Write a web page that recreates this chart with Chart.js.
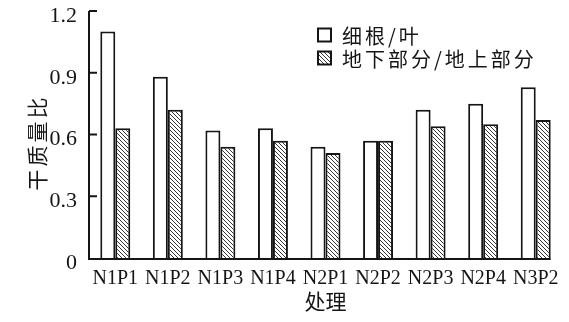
<!DOCTYPE html>
<html>
<head>
<meta charset="utf-8">
<script src="https://cdn.jsdelivr.net/npm/chart.js@4/dist/chart.umd.min.js"></script>
<style>
  html, body { margin: 0; padding: 0; background: #fff; }
  #wrap { width: 569px; height: 322px; }
</style>
</head>
<body>
<div id="wrap"><canvas id="c" width="569" height="322"></canvas></div>
<script>
// Treatments and dry-mass ratios
const categories = ['N1P1', 'N1P2', 'N1P3', 'N1P4', 'N2P1', 'N2P2', 'N2P3', 'N2P4', 'N3P2'];
const fineRootLeaf = [1.10, 0.88, 0.62, 0.63, 0.54, 0.57, 0.72, 0.75, 0.83];
const belowAbove = [0.63, 0.72, 0.54, 0.57, 0.51, 0.57, 0.64, 0.65, 0.67];
const seriesNames = ['细根/叶', '地下部分/地上部分'];
const yTicks = [0, 0.3, 0.6, 0.9, 1.2];
const yTitle = '干质量比';
const xTitle = '处理';

const INK = '#151515';
const SERIF = '"Liberation Serif", "Times New Roman", serif';
const CJK = '"Noto Sans CJK SC", sans-serif';

// Diagonal hatch fill ("\" direction)
function makeHatch() {
  const s = 4;
  const cv = document.createElement('canvas');
  cv.width = s; cv.height = s;
  const g = cv.getContext('2d');
  g.fillStyle = '#fff';
  g.fillRect(0, 0, s, s);
  g.strokeStyle = '#333';
  g.lineWidth = 1;
  g.beginPath();
  g.moveTo(-1, -1); g.lineTo(s + 1, s + 1);
  g.moveTo(-1, s - 1); g.lineTo(1, s + 1);
  g.moveTo(s - 1, -1); g.lineTo(s + 1, 1);
  g.stroke();
  return g.createPattern(cv, 'repeat');
}
const hatch = makeHatch();

// Axis lines, inward ticks, y title and legend
const decor = {
  id: 'decor',
  afterDatasetsDraw(chart) {
    const ctx = chart.ctx;
    const y = chart.scales.y;
    const area = chart.chartArea;
    const last = chart.getDatasetMeta(1).data[categories.length - 1];
    const xEnd = last.x + last.width / 2;
    ctx.save();
    ctx.strokeStyle = INK;
    ctx.lineWidth = 2;
    ctx.beginPath();
    ctx.moveTo(area.left, y.getPixelForValue(yTicks[yTicks.length - 1]));
    ctx.lineTo(area.left, y.getPixelForValue(0) + 1);
    ctx.lineTo(xEnd, y.getPixelForValue(0) + 1);
    ctx.stroke();
    yTicks.forEach(v => {
      if (v === 0) return;
      const py = y.getPixelForValue(v);
      ctx.beginPath();
      ctx.moveTo(area.left, py);
      ctx.lineTo(area.left + 8, py);
      ctx.stroke();
    });

    // vertical axis title
    ctx.save();
    ctx.translate(37, 144);
    ctx.rotate(-Math.PI / 2);
    ctx.font = '21px ' + CJK;
    ctx.fillStyle = INK;
    ctx.textAlign = 'center';
    ctx.textBaseline = 'middle';
    try { ctx.letterSpacing = '3px'; } catch (e) {}
    ctx.fillText(yTitle, 1.5, 0);
    ctx.restore();

    // legend
    const lx = 318, rows = [35, 58], box = 13;
    ctx.font = '20px ' + CJK;
    ctx.textBaseline = 'middle';
    ctx.textAlign = 'left';
    try { ctx.letterSpacing = '3px'; } catch (e) {}
    chart.data.datasets.forEach((ds, i) => {
      const cy = rows[i];
      ctx.fillStyle = ds.backgroundColor;
      ctx.fillRect(lx, cy - box / 2, box, box);
      ctx.lineWidth = 2;
      ctx.strokeStyle = INK;
      ctx.strokeRect(lx, cy - box / 2, box, box);
      ctx.fillStyle = INK;
      ctx.fillText(ds.label, lx + 24, cy + 1);
    });
    ctx.restore();
  }
};

new Chart(document.getElementById('c'), {
  type: 'bar',
  data: {
    labels: categories,
    datasets: [
      { label: seriesNames[0], data: fineRootLeaf, backgroundColor: '#fff', borderColor: INK, borderWidth: 2 },
      { label: seriesNames[1], data: belowAbove, backgroundColor: hatch, borderColor: INK, borderWidth: 2 }
    ]
  },
  options: {
    responsive: false,
    animation: false,
    devicePixelRatio: 1,
    layout: { padding: { top: 11, right: 7, left: 0, bottom: 0 } },
    datasets: { bar: { categoryPercentage: 0.57, barPercentage: 1.0 } },
    plugins: { legend: { display: false }, tooltip: { enabled: false } },
    scales: {
      x: {
        grid: { display: false, drawTicks: false },
        border: { display: false },
        ticks: { color: INK, font: { family: SERIF, size: 20 }, padding: 9, maxRotation: 0, autoSkip: false },
        title: { display: true, text: xTitle, color: INK, font: { family: CJK, size: 21 }, padding: { top: 2, bottom: 8 } },
        afterFit(s) { s.height = 64; s.paddingLeft = 0; s.paddingRight = 0; }
      },
      y: {
        min: 0, max: 1.2,
        afterBuildTicks(s) { s.ticks = yTicks.map(v => ({ value: v })); },
        grid: { display: false, drawTicks: false },
        border: { display: false },
        ticks: {
          color: INK, font: { family: SERIF, size: 22 }, padding: 12, labelOffset: 5,
          callback: v => (v === 0 ? '0' : v.toFixed(1))
        },
        afterFit(s) { s.width = 89; s.paddingTop = 0; s.paddingBottom = 0; }
      }
    }
  },
  plugins: [decor]
});
</script>
</body>
</html>
